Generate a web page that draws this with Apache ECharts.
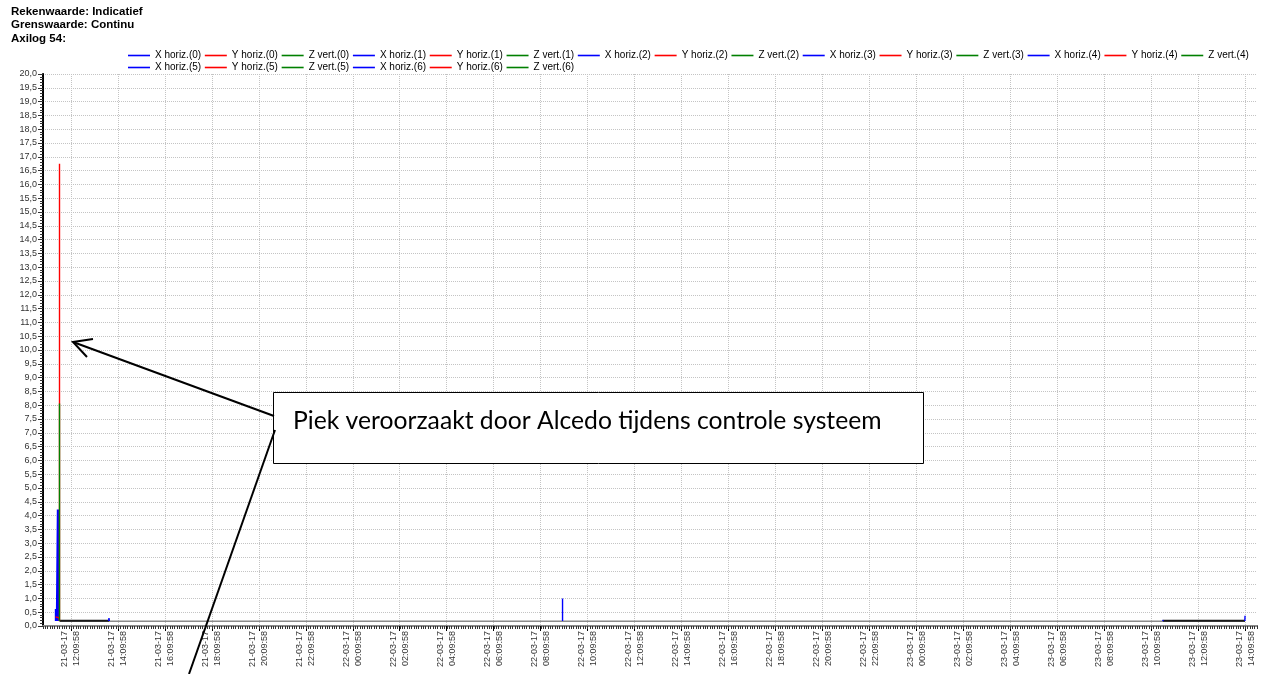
<!DOCTYPE html>
<html>
<head>
<meta charset="utf-8">
<title>Axilog 54</title>
<script src="https://cdn.jsdelivr.net/npm/echarts@6/dist/echarts.min.js"></script>
<style>
  html, body { margin: 0; padding: 0; background: #fff; }
  #chart { width: 1269px; height: 674px; }
</style>
</head>
<body>
<div id="chart"></div>
<script>
// header lines above the chart
const headerLines = ['Rekenwaarde: Indicatief', 'Grenswaarde: Continu', 'Axilog 54:'];

// x axis ticks (dd-mm-yy hh:mm:ss), every 2 hours
const tickLabels = [
  '21-03-17 12:09:58', '21-03-17 14:09:58', '21-03-17 16:09:58', '21-03-17 18:09:58',
  '21-03-17 20:09:58', '21-03-17 22:09:58', '22-03-17 00:09:58', '22-03-17 02:09:58',
  '22-03-17 04:09:58', '22-03-17 06:09:58', '22-03-17 08:09:58', '22-03-17 10:09:58',
  '22-03-17 12:09:58', '22-03-17 14:09:58', '22-03-17 16:09:58', '22-03-17 18:09:58',
  '22-03-17 20:09:58', '22-03-17 22:09:58', '23-03-17 00:09:58', '23-03-17 02:09:58',
  '23-03-17 04:09:58', '23-03-17 06:09:58', '23-03-17 08:09:58', '23-03-17 10:09:58',
  '23-03-17 12:09:58', '23-03-17 14:09:58'
];
const axisStart = '21-03-17 10:58:25';
const axisEnd = '23-03-17 14:40:34';

// sensor channels
const channelIds = [0, 1, 2, 3, 4, 5, 6];
const channelKinds = ['X horiz.', 'Y horiz.', 'Z vert.'];
const channelColors = ['#0000ff', '#ff0000', '#008000'];

// measured traces [time, mm/s]; null breaks the line
const xHoriz0 = [
  ['21-03-17 11:30:22', 0.18], ['21-03-17 11:30:22', 0.62], ['21-03-17 11:30:22', 0.18],
  ['21-03-17 11:32:56', 0.18], ['21-03-17 11:32:56', 0.6], ['21-03-17 11:32:56', 0.18],
  ['21-03-17 11:35:28', 0.18], ['21-03-17 11:35:28', 4.22], ['21-03-17 11:35:28', 0.18],
  ['21-03-17 11:38:02', 0.18], ['21-03-17 11:38:02', 4.22], ['21-03-17 11:38:02', 0.18],
  ['21-03-17 12:00:00', null],
  ['21-03-17 13:46:00', 0.18], ['21-03-17 13:47:00', 0.29], ['21-03-17 13:48:00', 0.18],
  ['22-03-17 00:00:00', null],
  ['22-03-17 09:06:00', 0.18], ['22-03-17 09:06:00', 1.0], ['22-03-17 09:06:00', 0.18],
  ['23-03-17 00:00:00', null],
  ['23-03-17 10:40:00', 0.18], ['23-03-17 10:40:30', 0.22], ['23-03-17 10:41:00', 0.18],
  ['23-03-17 12:00:00', null],
  ['23-03-17 14:09:30', 0.18], ['23-03-17 14:10:00', 0.37], ['23-03-17 14:11:00', 0.37]
];
const yHoriz0 = [
  ['21-03-17 11:30:22', 0.33], ['21-03-17 11:39:20', 0.3], ['21-03-17 11:40:35', 0.18],
  ['21-03-17 11:40:35', 16.75], ['21-03-17 11:40:35', 0.18]
];
const zVert0 = [
  ['21-03-17 11:40:35', 0.18], ['21-03-17 11:40:35', 8.06], ['21-03-17 11:40:35', 0.18]
];
const blackTrace = [
  ['21-03-17 11:41:00', 0.19], ['21-03-17 13:47:00', 0.19], ['22-03-17 00:00:00', null],
  ['23-03-17 10:40:00', 0.19], ['23-03-17 14:10:00', 0.19]
];
const greyTrace = [['21-03-17 11:41:00', 0.17], ['23-03-17 14:10:00', 0.17]];

const chart = echarts.init(document.getElementById('chart'));

function parseStamp(stamp) {
  const [date, time] = stamp.split(' ');
  const [d, m, y] = date.split('-').map(Number);
  const [hh, mm, ss] = time.split(':').map(Number);
  return new Date(2000 + y, m - 1, d, hh, mm, ss).getTime();
}

function toPoints(trace) {
  return trace.map(([t, v]) => [parseStamp(t), v]);
}

const tickValues = tickLabels.map(parseStamp);
const xMin = parseStamp(axisStart);
const xMax = parseStamp(axisEnd);
const spanMinutes = (xMax - xMin) / 60000;

const seriesNames = [];
const seriesColors = [];
channelIds.forEach((id) => {
  channelKinds.forEach((kind, k) => {
    seriesNames.push(kind + '(' + id + ')');
    seriesColors.push(channelColors[k]);
  });
});
const traceByName = {
  'X horiz.(0)': xHoriz0,
  'Y horiz.(0)': yHoriz0,
  'Z vert.(0)': zVert0
};

const lineBase = {
  type: 'line',
  showSymbol: false,
  symbol: 'none',
  connectNulls: false,
  animation: false,
  silent: true
};

const series = [
  Object.assign({}, lineBase, {
    name: 'grey', data: toPoints(greyTrace), lineStyle: { color: '#8c8c8c', width: 1.5 }
  }),
  Object.assign({}, lineBase, {
    name: 'black', data: toPoints(blackTrace), lineStyle: { color: '#1a1a1a', width: 2 }
  })
];
seriesNames.forEach((name, i) => {
  const color = seriesColors[i];
  series.push(Object.assign({}, lineBase, {
    name: name,
    itemStyle: { color: color },
    data: traceByName[name] ? toPoints(traceByName[name]) : [],
    lineStyle: { color: color, width: 1.4 }
  }));
});

function legendItems(from, to) {
  return seriesNames.slice(from, to).map((name, i) => ({
    name: name,
    itemStyle: { color: seriesColors[from + i], borderWidth: 0 }
  }));
}

const legendBase = {
  left: 128,
  padding: 0,
  itemWidth: 22,
  itemHeight: 1.6,
  itemGap: 3.7,
  icon: 'rect',
  selectedMode: false,
  itemStyle: { borderWidth: 0 },
  textStyle: { fontSize: 10, lineHeight: 12, color: '#000' }
};

const option = {
  animation: false,
  backgroundColor: '#fff',
  textStyle: { fontFamily: 'Liberation Sans, Arial, sans-serif' },
  title: {
    text: headerLines.join('\n'),
    left: 11,
    top: 5,
    padding: 0,
    textStyle: { fontSize: 11.5, fontWeight: 'bold', lineHeight: 13.5, color: '#000' }
  },
  legend: [
    Object.assign({}, legendBase, { top: 49.5, data: legendItems(0, 15) }),
    Object.assign({}, legendBase, { top: 61.5, data: legendItems(15, 21) })
  ],
  grid: { left: 43, right: 12, top: 74, bottom: 48, containLabel: false },
  xAxis: [
    {
      type: 'value',
      min: xMin,
      max: xMax,
      axisLine: { onZero: false, lineStyle: { color: '#000', width: 2 } },
      axisTick: { customValues: tickValues, length: 5, lineStyle: { color: '#000' } },
      axisLabel: {
        customValues: tickValues,
        rotate: 90,
        margin: 5,
        fontSize: 9,
        lineHeight: 12,
        color: '#333',
        formatter: (value) => {
          const idx = tickValues.indexOf(value);
          return idx < 0 ? '' : tickLabels[idx].replace(' ', '\n');
        }
      },
      splitLine: { show: true, lineStyle: { color: '#c4c4c4', type: 'dotted', width: 1 } }
    },
    {
      // dense small ticks under the time axis
      type: 'value',
      position: 'bottom',
      min: 0,
      max: spanMinutes,
      interval: 6,
      axisLine: { show: false },
      axisTick: { length: 3, lineStyle: { color: '#333' } },
      axisLabel: { show: false },
      splitLine: { show: false }
    },
    {
      // top frame
      type: 'value',
      position: 'top',
      min: 0,
      max: 1,
      axisLine: { lineStyle: { color: '#8a8a8a', width: 2 } },
      axisTick: { show: false },
      axisLabel: { show: false },
      splitLine: { show: false }
    }
  ],
  yAxis: [
    {
      type: 'value',
      min: 0,
      max: 20,
      interval: 0.5,
      axisLine: { show: true, lineStyle: { color: '#000', width: 2 } },
      axisTick: { show: true, length: 5, lineStyle: { color: '#333' } },
      minorTick: { show: true, splitNumber: 5, length: 3, lineStyle: { color: '#333' } },
      axisLabel: {
        margin: 6,
        fontSize: 9,
        color: '#333',
        formatter: (v) => v.toFixed(1).replace('.', ',')
      },
      splitLine: { show: true, lineStyle: { color: '#c4c4c4', type: 'dotted', width: 1 } }
    },
    {
      // right frame
      type: 'value',
      position: 'right',
      min: 0,
      max: 1,
      axisLine: { show: true, lineStyle: { color: '#000', width: 1 } },
      axisTick: { show: false },
      axisLabel: { show: false },
      splitLine: { show: false }
    }
  ],
  series: series,
  graphic: [
    {
      type: 'rect',
      z: 100,
      shape: { x: 273.5, y: 392.5, width: 650, height: 71 },
      style: { fill: '#fff', stroke: '#000', lineWidth: 1 }
    },
    {
      type: 'text',
      z: 101,
      x: 293,
      y: 421,
      style: {
        text: 'Piek veroorzaakt door Alcedo tijdens controle systeem',
        fontSize: 24.7,
        fontFamily: 'Lato',
        fill: '#000',
        verticalAlign: 'middle'
      }
    },
    {
      type: 'line',
      z: 100,
      shape: { x1: 274, y1: 416, x2: 73, y2: 342 },
      style: { stroke: '#000', lineWidth: 2 }
    },
    {
      type: 'polyline',
      z: 100,
      shape: { points: [[93, 339], [73, 342], [87, 357]] },
      style: { stroke: '#000', lineWidth: 2, fill: null }
    },
    {
      type: 'line',
      z: 100,
      shape: { x1: 275, y1: 430, x2: 189, y2: 674 },
      style: { stroke: '#000', lineWidth: 2 }
    }
  ]
};

chart.setOption(option);
</script>
</body>
</html>
